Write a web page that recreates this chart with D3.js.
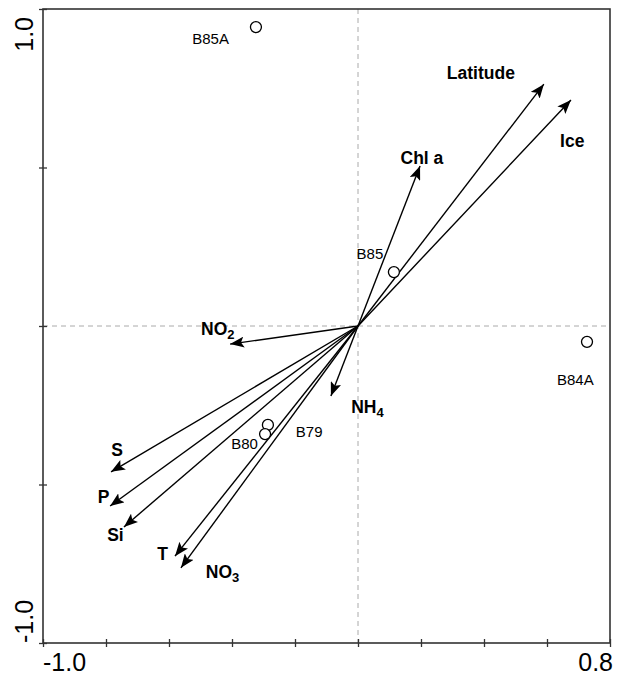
<!DOCTYPE html>
<meta charset="utf-8">
<head>
  <title>Ordination biplot</title>
</head>

<style>
body { margin: 0; background: #fff; }
text { font-family: "Liberation Sans", Arial, sans-serif; }
.var { font-weight: bold; font-size: 17.5px; }
.site { font-size: 15px; }
.tick-label { font-size: 25px; }
</style>

<body>
  <svg width="617" height="676"></svg>

  <script src="https://cdn.jsdelivr.net/npm/d3@7"></script>
  <script>
// environmental variables: arrow tips
var varNames = ["Latitude", "Ice", "Chl a", "NO2", "NH4", "S", "P", "Si", "T", "NO3"];
var varX = [0.59, 0.676, 0.197, -0.406, -0.086, -0.784, -0.787, -0.743, -0.581, -0.562];
var varY = [0.763, 0.713, 0.505, -0.057, -0.221, -0.46, -0.568, -0.634, -0.726, -0.763];
// label positions (data units)
var varLabX = [0.39, 0.68, 0.203, -0.445, 0.03, -0.765, -0.808, -0.77, -0.62, -0.43];
var varLabY = [0.8, 0.585, 0.53, -0.01, -0.255, -0.39, -0.54, -0.66, -0.72, -0.775];

// sites
var siteNames = ["B85A", "B85", "B84A", "B79", "B80"];
var siteX = [-0.324, 0.114, 0.727, -0.286, -0.295];
var siteY = [0.943, 0.17, -0.05, -0.312, -0.341];
var siteLabX = [-0.468, 0.038, 0.69, -0.155, -0.36];
var siteLabY = [0.905, 0.228, -0.17, -0.335, -0.37];

var xTicks = [-1.0, -0.8, -0.6, -0.4, -0.2, 0, 0.2, 0.4, 0.6, 0.8];
var yTicks = [-1.0, -0.5, 0, 0.5, 1.0];

var svg = d3.select("svg");
var x = d3.scaleLinear().domain([-1.0, 0.8]).range([43, 610]);
var y = d3.scaleLinear().domain([-1.0, 1.0]).range([643, 9]);

svg.append("defs").append("marker")
  .attr("id", "arrow")
  .attr("viewBox", "0 0 14 11")
  .attr("refX", 14).attr("refY", 5.5)
  .attr("markerWidth", 14).attr("markerHeight", 11)
  .attr("markerUnits", "userSpaceOnUse")
  .attr("orient", "auto")
  .append("path")
  .attr("d", "M0,0 L14,5.5 L0,11 L3,5.5 Z")
  .attr("fill", "#000");

// dashed zero lines
svg.append("line")
  .attr("x1", x(0)).attr("x2", x(0)).attr("y1", y(1)).attr("y2", y(-1))
  .attr("stroke", "#aaa").attr("stroke-dasharray", "5,4");
svg.append("line")
  .attr("x1", x(-1)).attr("x2", x(0.8)).attr("y1", y(0)).attr("y2", y(0))
  .attr("stroke", "#aaa").attr("stroke-dasharray", "5,4");

// frame
svg.append("rect")
  .attr("x", x(-1)).attr("y", y(1))
  .attr("width", x(0.8) - x(-1)).attr("height", y(-1) - y(1))
  .attr("fill", "none").attr("stroke", "#333").attr("stroke-width", 1.6);

var xAxis = d3.axisBottom(x).tickValues(xTicks).tickSize(8).tickFormat("");
svg.append("g").attr("transform", "translate(0," + (y(-1) - 4) + ")")
  .call(xAxis)
  .call(function(g) { g.select(".domain").remove(); })
  .selectAll("line").attr("stroke", "#333").attr("stroke-width", 1.3);

var yAxis = d3.axisLeft(y).tickValues(yTicks).tickSize(8).tickFormat("");
svg.append("g").attr("transform", "translate(" + (x(-1) + 4) + ",0)")
  .call(yAxis)
  .call(function(g) { g.select(".domain").remove(); })
  .selectAll("line").attr("stroke", "#333").attr("stroke-width", 1.3);

// end tick labels
svg.append("text").attr("class", "tick-label").attr("x", x(-1)).attr("y", 671).text("-1.0");
svg.append("text").attr("class", "tick-label").attr("x", 613).attr("y", 671)
  .attr("text-anchor", "end").text("0.8");
svg.append("text").attr("class", "tick-label")
  .attr("transform", "translate(33," + 17 + ") rotate(-90)")
  .attr("text-anchor", "end").text("1.0");
svg.append("text").attr("class", "tick-label")
  .attr("transform", "translate(33," + 643 + ") rotate(-90)")
  .text("-1.0");

// arrows
var vars = varNames.map(function(n, i) {
  return { name: n, x: varX[i], y: varY[i], lx: varLabX[i], ly: varLabY[i] };
});

svg.append("g").selectAll("line")
  .data(vars).enter().append("line")
  .attr("x1", x(0)).attr("y1", y(0))
  .attr("x2", function(d) { return x(d.x); })
  .attr("y2", function(d) { return y(d.y); })
  .attr("stroke", "#000").attr("stroke-width", 1.4)
  .attr("marker-end", "url(#arrow)");

var vl = svg.append("g").selectAll("text")
  .data(vars).enter().append("text")
  .attr("class", "var")
  .attr("x", function(d) { return x(d.lx); })
  .attr("y", function(d) { return y(d.ly); })
  .attr("text-anchor", "middle")
  .attr("dy", "0.35em");

vl.each(function(d) {
  var t = d3.select(this);
  var m = d.name.match(/^([A-Za-z ]+?)(\d)$/);
  if (m) {
    t.append("tspan").text(m[1]);
    t.append("tspan").attr("dy", "0.3em").attr("font-size", "13px").text(m[2]);
  } else {
    t.text(d.name);
  }
});

// sites
var sites = siteNames.map(function(n, i) {
  return { name: n, x: siteX[i], y: siteY[i], lx: siteLabX[i], ly: siteLabY[i] };
});

svg.append("g").selectAll("circle")
  .data(sites).enter().append("circle")
  .attr("cx", function(d) { return x(d.x); })
  .attr("cy", function(d) { return y(d.y); })
  .attr("r", 5.5)
  .attr("fill", "#fff").attr("stroke", "#000").attr("stroke-width", 1.3);

svg.append("g").selectAll("text")
  .data(sites).enter().append("text")
  .attr("class", "site")
  .attr("x", function(d) { return x(d.lx); })
  .attr("y", function(d) { return y(d.ly); })
  .attr("text-anchor", "middle")
  .attr("dy", "0.35em")
  .text(function(d) { return d.name; });
  </script>
</body>
</html>
